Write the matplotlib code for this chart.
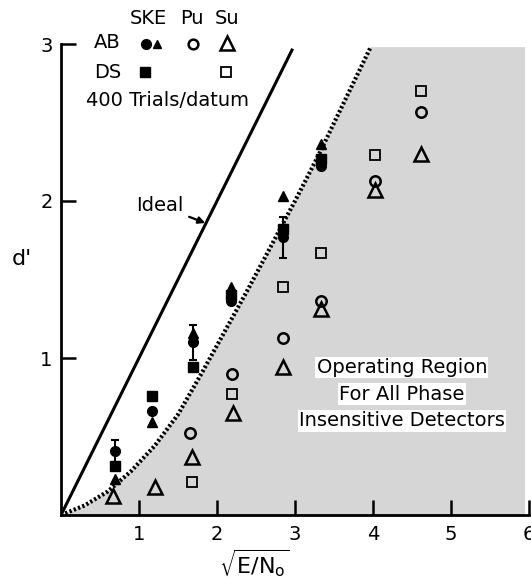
import matplotlib
matplotlib.use("Agg")
import matplotlib.pyplot as plt
from matplotlib.lines import Line2D

plt.rcParams['font.family'] = ['DejaVu Sans']
plt.rcParams['mathtext.default'] = 'regular'
plt.rcParams['hatch.color'] = '#a0a0a0'
plt.rcParams['hatch.linewidth'] = 0.6

# ---------------- data ----------------
# SKE, AB (filled circles, with error bars) and filled triangles
ske_ab_x = [0.69, 1.17, 1.69, 2.18, 2.85, 3.33]
ske_ab_circ_y = [0.41, 0.66, 1.10, 1.36, 1.77, 2.22]
ske_ab_circ_err = [0.07, 0.0, 0.11, 0.0, 0.13, 0.0]
ske_ab_tri_y = [0.23, 0.59, 1.16, 1.45, 2.03, 2.36]
# SKE, DS (filled squares)
ske_ds_y = [0.31, 0.76, 0.94, 1.40, 1.82, 2.27]
# Pu, AB (open circles)
pu_ab_x = [1.65, 2.19, 2.85, 3.33, 4.03, 4.62]
pu_ab_y = [0.52, 0.90, 1.13, 1.36, 2.13, 2.57]
# Su, AB (open triangles)
su_ab_x = [0.67, 1.20, 1.68, 2.20, 2.85, 3.33, 4.03, 4.62]
su_ab_y = [0.12, 0.18, 0.37, 0.65, 0.94, 1.31, 2.07, 2.30]
# Su, DS (open squares)
su_ds_x = [1.68, 2.19, 2.85, 3.33, 4.03, 4.62]
su_ds_y = [0.21, 0.77, 1.45, 1.67, 2.29, 2.70]

# Ideal observer line
ideal_x = [0.0, 2.97]
ideal_y = [0.0, 2.97]
# Phase-insensitive detector bound (dotted curve)
bound_x = [0.0, 0.3, 0.6, 0.9, 1.2, 1.5, 1.8, 2.1, 2.4, 2.7, 3.0, 3.3, 3.6, 3.97]
bound_y = [0.0, 0.06, 0.15, 0.28, 0.44, 0.64, 0.90, 1.17, 1.44, 1.72, 2.00, 2.29, 2.60, 2.98]
region_right = 5.95
region_top = 2.98

xticks = [1, 2, 3, 4, 5, 6]
yticks = [1, 2, 3]

# ---------------- figure ----------------
W, H = 531, 584
fig = plt.figure(figsize=(W / 100, H / 100), dpi=100)
ax = fig.add_axes([61 / W, 1 - 515 / H, (529 - 61) / W, (515 - 44) / H])
ax.set_xlim(0, 6)
ax.set_ylim(0, 3)

# shaded operating region
poly_x = list(bound_x) + [region_right, region_right]
poly_y = list(bound_y) + [region_top, 0.0]
ax.fill(poly_x, poly_y, facecolor='#d6d6d6', edgecolor='none', hatch='......', lw=0, zorder=1)
ax.plot(bound_x, bound_y, color='black', lw=3.0, ls=(0, (0.55, 0.55)), zorder=3)
ax.plot(ideal_x, ideal_y, color='black', lw=2.2, solid_capstyle='butt', zorder=3)

# data markers
ax.errorbar(ske_ab_x, ske_ab_circ_y, yerr=ske_ab_circ_err, fmt='none', ecolor='black',
            elinewidth=1.5, capsize=3, capthick=1.5, zorder=4)
ax.plot(ske_ab_x, ske_ab_tri_y, '^', color='black', ms=6.5, zorder=5)
ax.plot(ske_ab_x, ske_ds_y, 's', color='black', ms=6.5, zorder=5)
ax.plot(ske_ab_x, ske_ab_circ_y, 'o', color='black', ms=7, zorder=6)
ax.plot(pu_ab_x, pu_ab_y, 'o', mfc='none', mec='black', mew=1.8, ms=7.5, zorder=5)
ax.plot(su_ab_x, su_ab_y, '^', mfc='none', mec='black', mew=1.8, ms=10, zorder=5)
ax.plot(su_ds_x, su_ds_y, 's', mfc='none', mec='black', mew=1.3, ms=7, zorder=5)

# annotations
ax.annotate('Ideal', xy=(1.85, 1.86), xytext=(1.27, 1.97), fontsize=14,
            ha='center', va='center',
            arrowprops=dict(arrowstyle='-|>', color='black', lw=1.6, mutation_scale=10,
                            shrinkA=2, shrinkB=0), zorder=6)
for txt, yy in [('Operating Region', 0.94), ('For All Phase', 0.77), ('Insensitive Detectors', 0.60)]:
    ax.text(4.37, yy, txt, fontsize=14, ha='center', va='center', zorder=7,
            bbox=dict(facecolor='white', edgecolor='none', pad=1.0))

# axes styling
for s in ['top', 'right']:
    ax.spines[s].set_visible(False)
for s in ['left', 'bottom']:
    ax.spines[s].set_linewidth(2.0)
ax.set_xticks(xticks)
ax.set_yticks(yticks)
ax.tick_params(direction='in', length=11, width=1.8, labelsize=14, pad=6)
ax.tick_params(axis='x', pad=7)

fig.text(254 / W, 1 - 563 / H, r'$\sqrt{E/N_o}$', fontsize=16, ha='center', va='center')
fig.text(22 / W, 1 - 259 / H, "d'", fontsize=16, ha='center', va='center')

# legend block (text + marker glyphs)
def ftext(px, py, s, **kw):
    fig.text(px / W, 1 - py / H, s, ha='center', va='center', fontsize=14, **kw)

def fmark(px, py, **kw):
    fig.add_artist(Line2D([px / W], [1 - py / H], transform=fig.transFigure, ls='none', **kw))

ftext(148, 18, 'SKE')
ftext(192, 18, 'Pu')
ftext(227, 18, 'Su')
ftext(107, 43, 'AB')
ftext(108, 73, 'DS')
ftext(168, 100, '400 Trials/datum')
fmark(146, 44, marker='o', color='black', ms=7)
fmark(157, 44, marker='^', color='black', ms=6)
fmark(193, 44, marker='o', mfc='none', mec='black', mew=1.8, ms=7)
fmark(227, 43, marker='^', mfc='none', mec='black', mew=1.8, ms=10)
fmark(145, 72, marker='s', color='black', ms=6.5)
fmark(226, 72, marker='s', mfc='none', mec='black', mew=1.3, ms=7)

fig.savefig('out.png', dpi=100)
